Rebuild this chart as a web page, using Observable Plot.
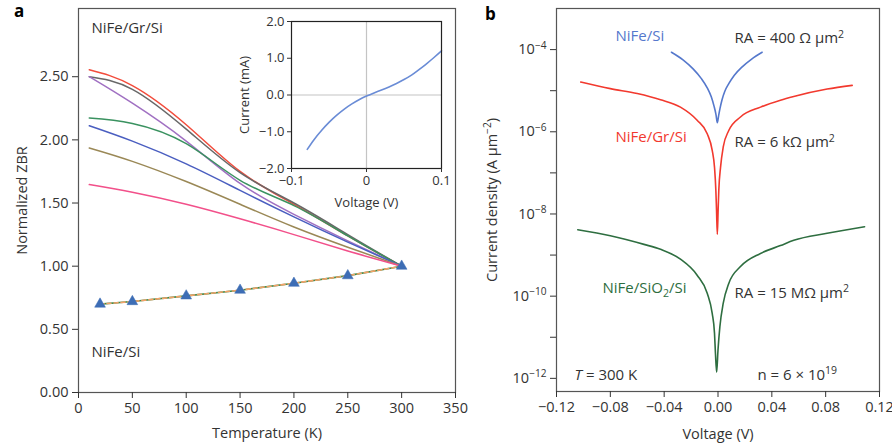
<!DOCTYPE html>
<html><head><meta charset="utf-8">
<script src="https://cdn.jsdelivr.net/npm/d3@7"></script>
<script src="https://cdn.jsdelivr.net/npm/@observablehq/plot@0.6"></script>
<style>
body{margin:0;background:#fff;}
#wrap{position:relative;width:892px;height:445px;font-family:"Open Sans",sans-serif;overflow:hidden;}
#wrap svg{position:absolute;left:0;top:0;overflow:visible;}
</style></head><body><div id="wrap"></div>
<script>
// ---------- Panel a : normalized ZBR vs temperature ----------
const temps = [10, 50, 100, 150, 200, 250, 300];
const zbrNames = ["s1", "s2", "s3", "s4", "s5", "s6", "s7"];
const zbr1 = [2.555, 2.43, 2.12, 1.75, 1.49, 1.24, 1.0];
const zbr2 = [2.50, 2.40, 2.085, 1.74, 1.50, 1.25, 1.0];
const zbr3 = [2.50, 2.29, 1.99, 1.655, 1.41, 1.20, 1.0];
const zbr4 = [2.173, 2.13, 1.97, 1.68, 1.48, 1.24, 1.0];
const zbr5 = [2.112, 1.99, 1.81, 1.60, 1.39, 1.19, 1.0];
const zbr6 = [1.936, 1.83, 1.67, 1.49, 1.31, 1.15, 1.0];
const zbr7 = [1.646, 1.585, 1.49, 1.375, 1.25, 1.12, 1.0];
const zbrColors = ["#f24c3c", "#686868", "#a070c2", "#3a9260", "#4a5ec0", "#9a8856", "#f2508a"];

const siTemps = [20, 50, 100, 150, 200, 250, 300];
const siZbr   = [0.70, 0.72, 0.765, 0.81, 0.865, 0.925, 1.0];

// inset: I-V
const insetV = [-0.079, -0.07, -0.06, -0.05, -0.04, -0.03, -0.02, -0.01, 0, 0.01, 0.02, 0.03, 0.04, 0.05, 0.06, 0.07, 0.08, 0.09, 0.1];
const insetI = [-1.48, -1.215, -0.965, -0.745, -0.555, -0.39, -0.25, -0.13, -0.03, 0.055, 0.135, 0.22, 0.315, 0.42, 0.54, 0.69, 0.85, 1.02, 1.20];

// ---------- Panel b : current density vs voltage (log10 J) ----------
const siV    = [-0.0346, -0.026, -0.0185, -0.0125, -0.008, -0.005, -0.003, -0.0015, -0.0005, 0.0005, 0.0015, 0.003, 0.005, 0.008, 0.012, 0.018, 0.025, 0.0328];
const siLogJ = [-4.065, -4.25, -4.47, -4.70, -4.93, -5.15, -5.37, -5.58, -5.78, -5.60, -5.43, -5.22, -5.02, -4.83, -4.63, -4.42, -4.23, -4.065];

const grV    = [-0.102, -0.08, -0.06, -0.0427, -0.0279, -0.0155, -0.008, -0.0043, -0.0026, -0.0016, -0.0011, -0.0005, 0.0001, 0.0006, 0.0019, 0.0039, 0.008, 0.0167, 0.0316, 0.0464, 0.0563, 0.0811, 0.0997];
const grLogJ = [-4.79, -4.95, -5.07, -5.22, -5.40, -5.72, -6.05, -6.45, -6.86, -7.42, -7.9, -8.5, -7.9, -7.42, -6.86, -6.37, -5.97, -5.64, -5.40, -5.23, -5.14, -4.96, -4.87];

const oxV    = [-0.1042, -0.08, -0.055, -0.0427, -0.0279, -0.0155, -0.008, -0.0043, -0.0026, -0.0019, -0.001, 0.0, 0.0014, 0.0039, 0.008, 0.0167, 0.0316, 0.0464, 0.0563, 0.0811, 0.1089];
const oxLogJ = [-8.385, -8.53, -8.74, -8.86, -9.10, -9.49, -9.93, -10.42, -10.90, -11.39, -11.85, -11.31, -10.74, -10.17, -9.69, -9.28, -8.96, -8.77, -8.64, -8.47, -8.31];

const jSeries = ["NiFe/Si", "NiFe/Gr/Si", "NiFe/SiO2/Si"];
const jColors = ["#5578cc", "#f2392e", "#2e6e40"];

const yTicksB = [-12, -11, -10, -9, -8, -7, -6, -5, -4];

// ---------- build ----------
const W = 892, H = 445;
const wrap = document.getElementById("wrap");
const font = "'Open Sans', sans-serif";

const zbrTable = [zbr1, zbr2, zbr3, zbr4, zbr5, zbr6, zbr7];
const zbrRows = zbrNames.flatMap((n, i) => temps.map((t, j) => ({series: n, T: t, v: zbrTable[i][j]})));
const siRows = siTemps.map((t, i) => ({T: t, v: siZbr[i]}));

const plotA = Plot.plot({
  width: W, height: H,
  marginLeft: 78, marginRight: W - 455, marginTop: 8, marginBottom: H - 392,
  style: {fontFamily: font, fontSize: "14.5px", color: "#333", background: "transparent", overflow: "visible"},
  x: {domain: [0, 350]},
  y: {domain: [0, 3.04]},
  color: {type: "ordinal", domain: zbrNames, range: zbrColors},
  marks: [
    Plot.frame({stroke: "#555", strokeWidth: 1.2}),
    Plot.axisX({ticks: d3.range(0, 351, 50), tickFormat: d3.format("d"), tickSize: 6, tickPadding: 4,
      label: "Temperature (K)", labelAnchor: "center", labelOffset: 45, labelArrow: "none"}),
    Plot.axisY({ticks: d3.range(0, 2.51, 0.5), tickFormat: d3.format(".2f"), tickSize: 6, tickPadding: 4,
      label: "Normalized ZBR", labelAnchor: "center", labelOffset: 62, labelArrow: "none"}),
    Plot.line(zbrRows, {x: "T", y: "v", z: "series", stroke: "series", strokeWidth: 1.5, curve: "natural"}),
    Plot.line(siRows, {x: "T", y: "v", stroke: "#3a8a4a", strokeWidth: 1.6}),
    Plot.line(siRows, {x: "T", y: "v", stroke: "#f4a268", strokeWidth: 1.6, strokeDasharray: "4,3"}),
    Plot.dot(siRows, {x: "T", y: "v", symbol: "triangle", r: 4, fill: "#3d6db5", stroke: "#3d6db5", strokeWidth: 0.5}),
    Plot.text(["NiFe/Gr/Si"], {x: () => 12, y: () => 2.85, text: d => d, textAnchor: "start", lineAnchor: "bottom", fontSize: 15, fill: "#333"}),
    Plot.text(["NiFe/Si"], {x: () => 12, y: () => 0.285, text: d => d, textAnchor: "start", lineAnchor: "bottom", fontSize: 15, fill: "#333"})
  ]
});

const insetRows = insetV.map((v, i) => ({V: v, I: insetI[i]}));
const plotIn = Plot.plot({
  width: W, height: H,
  marginLeft: 291, marginRight: W - 441, marginTop: 21, marginBottom: H - 168,
  style: {fontFamily: font, fontSize: "13px", color: "#333", background: "transparent", overflow: "visible"},
  x: {domain: [-0.1, 0.1]},
  y: {domain: [-2, 2]},
  marks: [
    Plot.frame({fill: "white"}),
    Plot.ruleX([0], {stroke: "#c4c4c4", strokeWidth: 1.2}),
    Plot.ruleY([0], {stroke: "#c4c4c4", strokeWidth: 1.2}),
    Plot.line(insetRows, {x: "V", y: "I", stroke: "#6a8cd6", strokeWidth: 1.6, curve: "natural"}),
    Plot.frame({stroke: "#222", strokeWidth: 1.2}),
    Plot.axisX({ticks: [-0.1, 0, 0.1], tickFormat: d => d === 0 ? "0" : d3.format(".1f")(d), tickSize: 4, tickPadding: 3,
      label: "Voltage (V)", labelAnchor: "center", labelOffset: 38, labelArrow: "none"}),
    Plot.axisY({ticks: [-2, -1, 0, 1, 2], tickFormat: d3.format(".1f"), tickSize: 4, tickPadding: 3,
      label: "Current (mA)", labelAnchor: "center", labelOffset: 52, labelArrow: "none"})
  ]
});

const jTable = [[siV, siLogJ], [grV, grLogJ], [oxV, oxLogJ]];
const jRows = jSeries.flatMap((s, i) => jTable[i][0].map((v, k) => ({series: s, V: v, J: Math.pow(10, jTable[i][1][k])})));
const expFmt = e => "10^{" + (e < 0 ? "\u2212" : "") + Math.abs(e) + "}";

const plotB = Plot.plot({
  width: W, height: H,
  marginLeft: 556, marginRight: W - 879, marginTop: 8, marginBottom: H - 391,
  style: {fontFamily: font, fontSize: "14.5px", color: "#333", background: "transparent", overflow: "visible"},
  x: {domain: [-0.12, 0.12]},
  y: {type: "log", domain: [Math.pow(10, -12.32), Math.pow(10, -3.0)]},
  color: {type: "ordinal", domain: jSeries, range: jColors},
  marks: [
    Plot.frame({stroke: "#555", strokeWidth: 1.2}),
    Plot.axisX({ticks: d3.range(-0.12, 0.1201, 0.04), tickFormat: d3.format(".2f"), tickSize: 6, tickPadding: 4,
      label: "Voltage (V)", labelAnchor: "center", labelOffset: 47, labelArrow: "none"}),
    Plot.axisY({ticks: yTicksB.map(e => Math.pow(10, e)), tickFormat: d => { const e = Math.round(Math.log10(d)); return e % 2 === 0 ? expFmt(e) : ""; },
      tickSize: 6, tickPadding: 4,
      label: "Current density (A \u00b5m^{\u22122})", labelAnchor: "center", labelOffset: 70, labelArrow: "none"}),
    Plot.line(jRows, {x: "V", y: "J", z: "series", stroke: "series", strokeWidth: 1.6, curve: "monotone-x"}),
    Plot.text([jSeries[0]], {x: () => -0.0762, y: () => Math.pow(10, -3.78), text: d => d, textAnchor: "start", lineAnchor: "bottom", fontSize: 15, fill: jColors[0]}),
    Plot.text([jSeries[1]], {x: () => -0.0762, y: () => Math.pow(10, -6.26), text: d => d, textAnchor: "start", lineAnchor: "bottom", fontSize: 15, fill: jColors[1]}),
    Plot.text(["NiFe/SiO_{2}/Si"], {x: () => -0.0858, y: () => Math.pow(10, -9.92), text: d => d, textAnchor: "start", lineAnchor: "bottom", fontSize: 15, fill: jColors[2]}),
    Plot.text(["RA = 400 \u03a9 \u00b5m^{2}"], {x: () => 0.0123, y: () => Math.pow(10, -3.85), text: d => d, textAnchor: "start", lineAnchor: "bottom", fontSize: 15, fill: "#333"}),
    Plot.text(["RA = 6 k\u03a9 \u00b5m^{2}"], {x: () => 0.0123, y: () => Math.pow(10, -6.38), text: d => d, textAnchor: "start", lineAnchor: "bottom", fontSize: 15, fill: "#333"}),
    Plot.text(["RA = 15 M\u03a9 \u00b5m^{2}"], {x: () => 0.0123, y: () => Math.pow(10, -10.04), text: d => d, textAnchor: "start", lineAnchor: "bottom", fontSize: 15, fill: "#333"}),
    Plot.text(["~{T} = 300 K"], {x: () => -0.1066, y: () => Math.pow(10, -12.03), text: d => d, textAnchor: "start", lineAnchor: "bottom", fontSize: 15, fill: "#333"}),
    Plot.text(["n = 6 \u00d7 10^{19}"], {x: () => 0.0293, y: () => Math.pow(10, -12.03), text: d => d, textAnchor: "start", lineAnchor: "bottom", fontSize: 15, fill: "#333"})
  ]
});

wrap.appendChild(plotA);
wrap.appendChild(plotB);
wrap.appendChild(plotIn);

// panel letters
const letters = d3.create("svg").attr("width", W).attr("height", H)
  .style("font-family", font).style("font-weight", "bold").style("font-size", "17px");
letters.append("text").attr("x", 14).attr("y", 17).text("a");
letters.append("text").attr("x", 485).attr("y", 20).text("b");
wrap.appendChild(letters.node());

// rich text: ^{sup}, _{sub}, ~{italic}
function richify(root) {
  root.querySelectorAll("text, tspan").forEach(el => {
    if (el.childNodes.length !== 1 || el.firstChild.nodeType !== 3) return;
    const s = el.textContent;
    if (!/[\^_~]\{/.test(s)) return;
    const fs = parseFloat(getComputedStyle(el).fontSize) || 14;
    el.textContent = "";
    const re = /([\^_~])\{([^}]*)\}/g;
    let last = 0, m, shift = 0;
    const add = (txt, kind) => {
      const t = document.createElementNS("http://www.w3.org/2000/svg", "tspan");
      t.textContent = txt;
      let target = 0;
      if (kind === "^") { target = -0.38 * fs; t.setAttribute("font-size", (0.7 * fs) + "px"); }
      else if (kind === "_") { target = 0.28 * fs; t.setAttribute("font-size", (0.7 * fs) + "px"); }
      else if (kind === "~") { t.setAttribute("font-style", "italic"); }
      const dy = target - shift;
      if (dy !== 0) t.setAttribute("dy", dy);
      shift = target;
      el.appendChild(t);
    };
    while ((m = re.exec(s))) {
      if (m.index > last) add(s.slice(last, m.index), "");
      add(m[2], m[1]);
      last = re.lastIndex;
    }
    if (last < s.length) add(s.slice(last), "");
  });
}
richify(wrap);
</script></body></html>
